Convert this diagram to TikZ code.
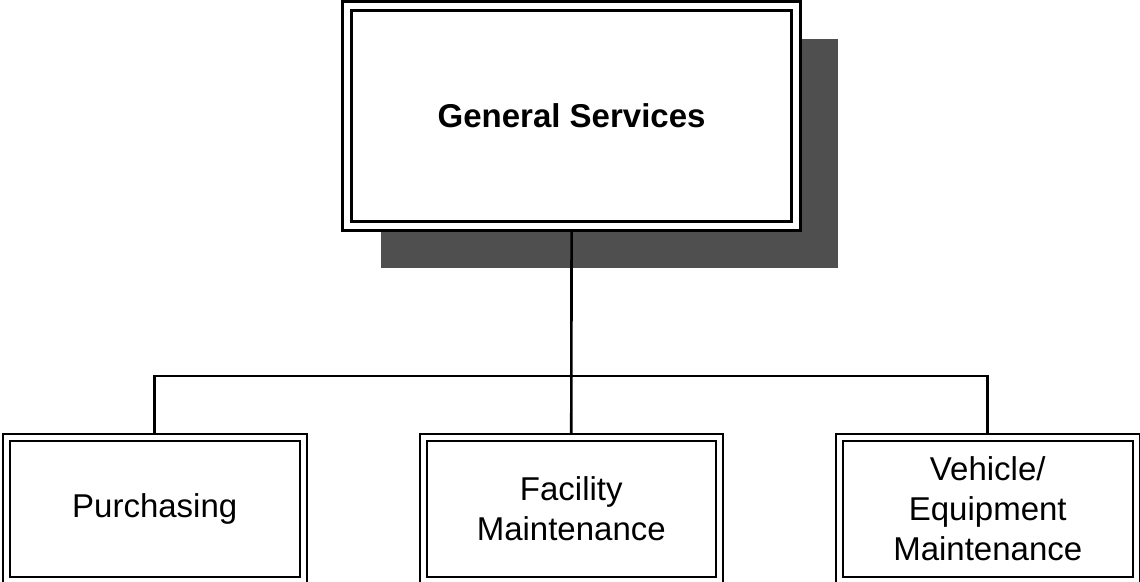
\documentclass[tikz,border=0pt]{standalone}
\usepackage{fontspec}
\setmainfont{Liberation Sans}
\usetikzlibrary{positioning,backgrounds}
\definecolor{shadowgray}{RGB}{79,79,79}

\begin{document}
\begin{tikzpicture}[x=1bp,y=-1bp,
  headbox/.style={draw,fill=white,double,line width=3bp,double distance=6bp,outer sep=0pt,inner sep=0pt,
    minimum width=448.25bp,minimum height=219.5bp,font={\fontsize{33bp}{40bp}\selectfont\bfseries}},
  unitbox/.style={draw,fill=white,double,line width=2bp,double distance=5bp,outer sep=0pt,inner sep=0pt,
    minimum width=296.5bp,minimum height=143bp,align=center,font={\fontsize{33bp}{40bp}\selectfont}},
  link/.style={line width=2.6bp}]
\clip (0,0) rectangle (1140,582);

% department head
\node[headbox] (gs) at (571.6,116) {General Services};

% units
\node[unitbox] (pur) at (154.75,508.5) {Purchasing};
\node[unitbox,right=120bp of pur] (fac) {Facility\\Maintenance};
\node[unitbox,right=120bp of fac] (veh) {Vehicle/\\Equipment\\Maintenance};

% shadow and links go underneath the boxes
\begin{scope}[on background layer]
\fill[shadowgray] ([shift={(33.5,32.75)}]gs.north west) rectangle ([shift={(42.25,42.25)}]gs.south east);
\coordinate (bus) at (571.6,376);
\draw[link] (gs.south) -- (fac.north);
\draw[link] (pur.north) |- (bus) -| (veh.north);
\end{scope}

\end{tikzpicture}
\end{document}
